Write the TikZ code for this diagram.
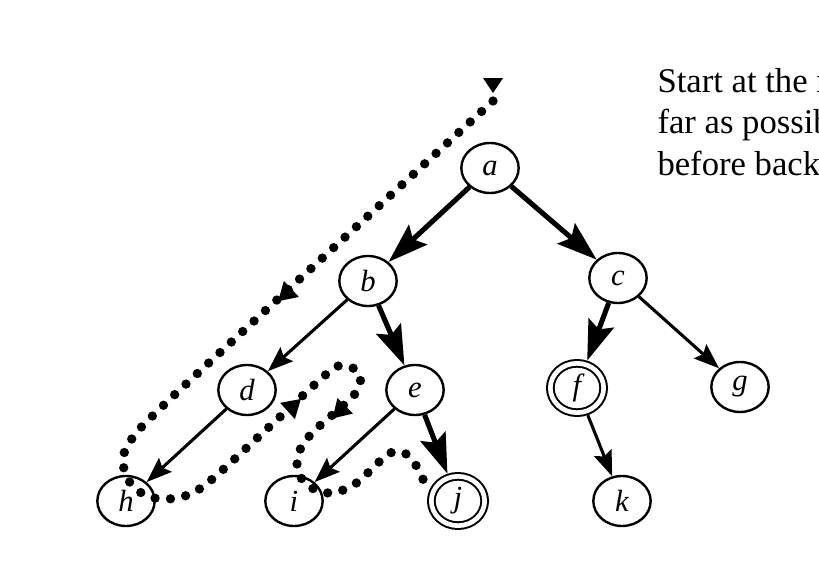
\documentclass[tikz,border=0pt]{standalone}
\usepackage{fontspec}
\setmainfont{Liberation Serif}
\usetikzlibrary{arrows.meta,shapes.geometric}

\tikzset{every picture/.style={line width=0.75pt}}
\tikzset{
	vtx/.style={draw, ellipse, line width=1.8pt, minimum width=43pt, minimum height=37.5pt, inner sep=0pt, font=\fontsize{23}{23}\selectfont\itshape},
	goalvtx/.style={vtx, double, double distance=3.5pt, line width=1.5pt, minimum width=40pt, minimum height=37pt, outer sep=3.25pt},
	goaledge/.style={line width=3.8pt, -{Stealth[length=30pt, width=20pt, inset=5pt]}},
	sideedge/.style={line width=2.3pt, -{Stealth[length=19pt, width=14pt, inset=3pt]}},
	dfstrace/.style={line width=7pt, line cap=round, dash pattern=on 0pt off 11.6pt},
}

\begin{document}
\begin{tikzpicture}[x=0.75pt,y=0.75pt,yscale=-1,xscale=1]
	\useasboundingbox (0,0) rectangle (819,571);

	%Shape: Ellipse
	\draw (490,168) node [vtx] (a) {a};
	\draw (368,281) node [vtx] (b) {b};
	\draw (618,278) node [vtx] (c) {c};
	\draw (247,390) node [vtx] (d) {d};
	\draw (415,390) node [vtx] (e) {e};
	\draw (577,388) node [goalvtx] (f) {f};
	\draw (740,387) node [vtx] (g) {g};
	\draw (126,501) node [vtx] (h) {h};
	\draw (294,501) node [vtx] (i) {i};
	\draw (458,501) node [goalvtx] (j) {j};
	\draw (622,501) node [vtx] (k) {k};

	%Straight Lines
	\draw [goaledge] (a) -- (b);
	\draw [goaledge] (a) -- (c);
	\draw [sideedge] (b) -- (d);
	\draw [goaledge] (b) -- (e);
	\draw [goaledge] (c) -- (f);
	\draw [sideedge] (c) -- (g);
	\draw [sideedge] (d) -- (h);
	\draw [sideedge] (e) -- (i);
	\draw [goaledge] (e) -- (j);
	\draw [sideedge] (f) -- (k);

	%Curve Lines
	\draw [dfstrace] plot [smooth, tension=0.55] coordinates {(493,101) (330,251) (168,401) (131,440) (123,462) (131,484) (150,497) (176,498) (205,485) (268,428) (329,372) (346,366) (359,373) (359,388) (345,404) (313,432) (299,452) (298,472) (310,487) (330,493) (352,486) (372,469) (388,454) (402,452) (414,462) (428,490)};
	\fill [shift={(493,83)}, rotate=90] (10,0) -- (-5,-10) -- (-5,10) -- cycle;
	\fill [shift={(287,293)}, rotate=137] (12,0) -- (-6,-11) -- (-6,11) -- cycle;
	\fill [shift={(292,407)}, rotate=-42] (12,0) -- (-6,-11) -- (-6,11) -- cycle;
	\fill [shift={(341,410)}, rotate=135] (12,0) -- (-6,-11) -- (-6,11) -- cycle;

	% Text Node
	\draw (657,175) node [anchor=base west, align=left, inner sep=0pt, font=\fontsize{26}{31}\selectfont] (note) {Start at the r\\far as possib\\before back};

\end{tikzpicture}
\end{document}
